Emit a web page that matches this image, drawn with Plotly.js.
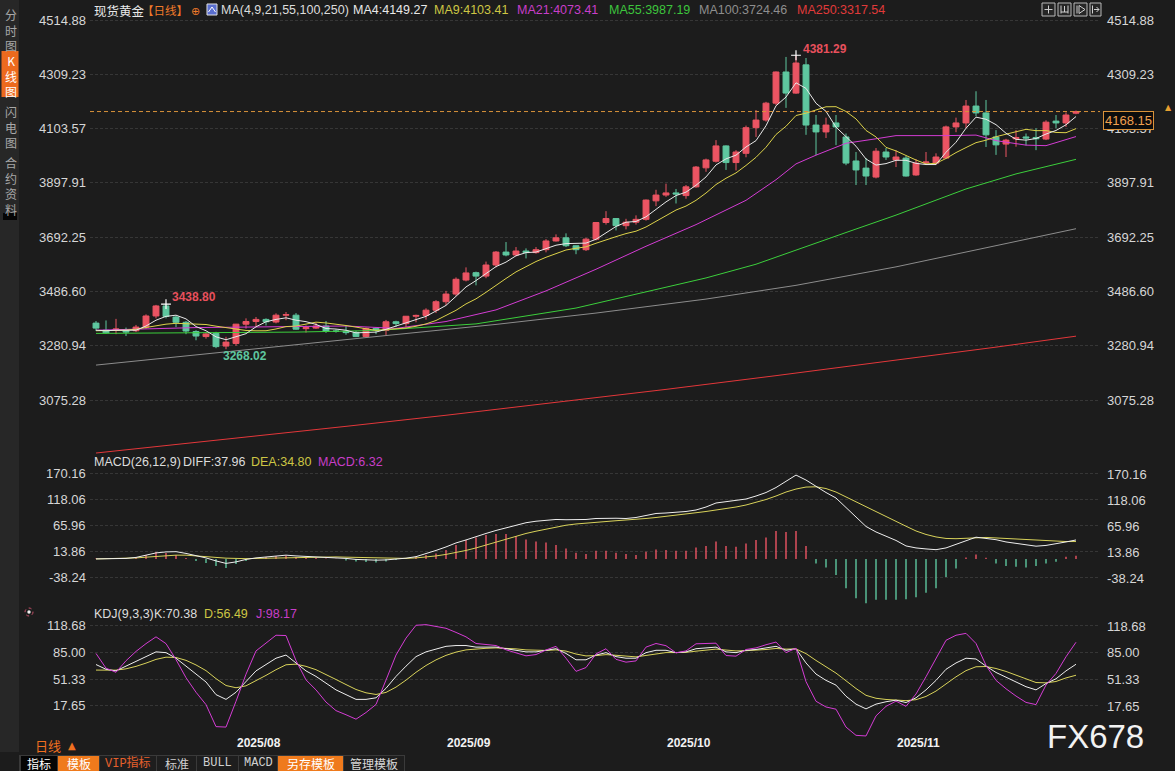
<!DOCTYPE html>
<html><head><meta charset="utf-8">
<script src="https://cdn.plot.ly/plotly-3.0.1.min.js"></script>
<style>html,body{margin:0;padding:0;background:#1c1c1c;overflow:hidden}#c{width:1175px;height:771px}</style>
</head><body><div id="c"></div>
<script>
// ---------------- DATA ----------------
const dates = [
'2025-07-14','2025-07-15','2025-07-16','2025-07-17','2025-07-18','2025-07-21','2025-07-22','2025-07-23','2025-07-24','2025-07-25','2025-07-28','2025-07-29','2025-07-30','2025-07-31',
'2025-08-01','2025-08-04','2025-08-05','2025-08-06','2025-08-07','2025-08-08','2025-08-11','2025-08-12','2025-08-13','2025-08-14','2025-08-15','2025-08-18','2025-08-19','2025-08-20','2025-08-21','2025-08-22','2025-08-25','2025-08-26','2025-08-27','2025-08-28','2025-08-29',
'2025-09-01','2025-09-02','2025-09-03','2025-09-04','2025-09-05','2025-09-08','2025-09-09','2025-09-10','2025-09-11','2025-09-12','2025-09-15','2025-09-16','2025-09-17','2025-09-18','2025-09-19','2025-09-22','2025-09-23','2025-09-24','2025-09-25','2025-09-26','2025-09-29','2025-09-30',
'2025-10-01','2025-10-02','2025-10-03','2025-10-06','2025-10-07','2025-10-08','2025-10-09','2025-10-10','2025-10-13','2025-10-14','2025-10-15','2025-10-16','2025-10-17','2025-10-20','2025-10-21','2025-10-22','2025-10-23','2025-10-24','2025-10-27','2025-10-28','2025-10-29','2025-10-30','2025-10-31',
'2025-11-03','2025-11-04','2025-11-05','2025-11-06','2025-11-07','2025-11-10','2025-11-11','2025-11-12','2025-11-13','2025-11-14','2025-11-17','2025-11-18','2025-11-19','2025-11-20','2025-11-21','2025-11-24','2025-11-25','2025-11-26','2025-11-27'];

const openP = [3367,3340,3340,3338,3338,3352,3394,3432,3390,3370,
 3335,3316,3328,3280,3290,3363,3373,3381,3371,3397,
 3397,3346,3348,3356,3337,3336,3332,3316,3347,3339,
 3372,3365,3393,3396,3416,3448,3477,3530,3558,3545,
 3587,3636,3625,3640,3634,3645,3678,3690,3660,3645,
 3685,3748,3763,3736,3749,3760,3830,3852,3860,3850,
 3883,3955,3980,4038,3975,4010,4107,4136,4200,4318,
 4238,4345,4117,4091,4125,4072,3981,3954,3920,4015,
 3985,3992,3928,3974,3973,3992,4110,4125,4189,4163,
 4072,4045,4065,4072,4070,4064,4132,4125,4162];
const highP = [3375,3377,3383,3350,3360,3400,3436,3438.8,3395,3375,
 3340,3333,3334,3315,3364,3385,3390,3385,3404,3409,
 3405,3358,3368,3375,3343,3358,3338,3350,3351,3379,
 3376,3394,3399,3423,3454,3489,3540,3578,3562,3600,
 3640,3674,3655,3650,3655,3685,3703,3707,3660,3690,
 3750,3791,3765,3762,3775,3835,3872,3895,3875,3890,
 3962,3990,4060,4040,4022,4115,4174,4205,4320,4375,
 4381.29,4371,4155,4145,4155,4085,4015,3992,4030,4030,
 4022,4000,3988,4015,4010,4115,4145,4212,4245,4212,
 4098,4065,4098,4085,4105,4135,4155,4165,4172];
const lowP = [3337,3326,3325,3318,3333,3345,3385,3385,3352,3325,
 3302,3308,3272,3268.02,3281,3346,3355,3358,3366,3378,
 3342,3331,3345,3330,3331,3323,3314,3312,3325,3321,
 3352,3351,3370,3380,3405,3435,3470,3525,3510,3537,
 3578,3620,3620,3612,3630,3635,3676,3655,3628,3640,
 3680,3740,3718,3722,3740,3755,3810,3845,3820,3838,
 3880,3940,3975,3947,3945,3995,4072,4130,4192,4182,
 4235,4080,4003,4068,4041,3965,3890,3890,3915,3985,
 3958,3922,3925,3966,3966,3990,4090,4105,4150,4034,
 4004,3996,4035,4040,4022,4060,4105,4110,4158];
const closeP = [3348,3330,3345,3333,3352,3394,3432,3392,3370,3337,
 3318,3326,3278,3295,3363,3373,3381,3372,3397,3399,
 3344,3350,3356,3336,3336,3331,3316,3347,3339,3372,
 3365,3393,3396,3416,3448,3477,3533,3557,3545,3587,
 3636,3625,3640,3634,3645,3678,3690,3660,3645,3685,
 3748,3763,3736,3749,3760,3833,3852,3860,3856,3883,
 3958,3985,4038,3975,4015,4107,4136,4200,4318,4238,
 4352,4117,4091,4117,4110,3973,3947,3924,4018,3996,
 3996,3924,3973,3977,3996,4110,4125,4189,4163,4080,
 4042,4060,4070,4068,4065,4128,4125,4155,4168.15];

const ma4 = [3340,3338,3340,3339,3340,3356,3378,3392.5,3397,3383,
 3354,3338,3315,3304,3315.5,3327,3353,3372,3381,3387,
 3378,3372.5,3362,3346.5,3344.5,3340,3330,3332.5,3333,3343.5,
 3356,3367,3381.5,3392.5,3413,3434,3468.5,3504,3528,3555.5,
 3581,3598,3622,3634,3636,3649,3662,3668,3668,3670,
 3684.5,3710,3733,3749,3752,3769.5,3798.5,3826,3850,3863,
 3889,3920.5,3966,3989,4003,4034,4058,4114.5,4190,4223,
 4277,4256,4199.5,4169,4109,4073,4037,3988.5,3965.5,3971,
 3983.5,3983.5,3972,3967.5,3967.5,4014,4052,4105,4147,4139,
 4118.5,4086,4063,4060,4066,4083,4096.5,4118,4149.27];
const ma9 = [3338,3338,3339,3340,3344,3350,3357,3363,3366.2,3365,
 3363.7,3361.6,3355.4,3349.1,3345.7,3339.1,3337.9,3338.1,3344.8,3353.8,
 3355.8,3363.8,3370.6,3367.6,3363.4,3357.9,3351.7,3346.1,3339.4,3342.6,
 3344.2,3348.3,3355,3363.9,3376.9,3394.8,3415.4,3439.7,3458.9,3483.6,
 3510.6,3536,3560.9,3581.6,3600.2,3616.3,3631.1,3643.9,3650.3,3655.8,
 3669.4,3683.1,3694.4,3706,3715.1,3731,3752.3,3776.2,3795.2,3810.2,
 3831.9,3859.6,3891.7,3915.6,3935.8,3964.1,3994.8,4033,4081.3,4112.4,
 4153.2,4162,4174.9,4186.2,4186.6,4168.4,4140.3,4096.6,4072.1,4032.6,
 4019.1,4000.6,3984.6,3969.8,3972.3,3990.4,4012.8,4031.8,4050.3,4059.7,
 4072.8,4082.4,4092.8,4100.8,4095.8,4096.1,4089,4088.1,4103.41];
const ma21Idx = [0,5,10,15,20,25,30,35,40,45,50,55,60,65,68,70,72,75,78,80,85,88,90,93,95,98];
const ma21 = [3340,3345,3350,3352,3355,3356,3347,3373,3417,3489,3571,3658,3740,3832,3910,3970,4003,4048,4065,4077,4077,4079,4058,4041,4039,4073.41];
const ma55Idx = [0,10,20,28,38,48,55,61,66,70,75,80,87,92,98];
const ma55 = [3328,3330,3333,3339,3364,3424,3485,3538,3590,3644,3710,3776,3875,3932,3987.19];
const ma100Idx = [0,10,20,28,40,50,61,70,80,90,98];
const ma100 = [3208,3246,3283,3316,3362,3405,3458,3510,3580,3660,3724.46];
const ma250Idx = [0,14,25,35,46,57,68,80,90,98];
const ma250 = [2875,2930,2976,3018,3066,3116,3168,3226,3276,3317.54];

const diff = [0,0,0.5,1,3,8,12,14,14.5,11,
 7,2,-4,-9,-6,-1,2,4,6,7.5,
 6,5,4.5,4,3,1,-1,-2.5,-2.5,-2,
 -1,1.5,4.5,10,17,24,32,38,45,51,
 57,62,68,72.5,75.5,78,79,78.5,78,79,
 81,82,81.5,81,83,87,91,92,93,95,
 98,104,112,115,116.5,120,126,133,143,155,
 168,158,145,133,122,103,82,65,54,45,
 37,26,22,20,18.5,22,29,37,43.5,41,
 38.5,34,31,28,25.5,27,30,34,37.96];
const dea = [0,0.3,0.5,1,2,3.5,5,6.5,7.5,7.5,
 6.5,5,3,1.5,0.5,0.5,1,1.5,2.5,3,
 3.5,3.8,4,4,4,3.5,3,2,1,0.5,
 0.5,1,2,3.5,6,9,12.5,17,22,28,
 34,40,46,51,55.5,60,64.5,67.5,70,72,
 73.5,75,76.5,78,79,81,83,85,87,90,
 92.5,95,97.5,100,104,108,113,119,126,134,
 140,144,144.5,141,134,124,114,104.5,95,85,
 75,65.5,56,49,44,41,40.5,41.5,43,43,
 42,41,40,39,38,36.5,35,34.8,34.80];
const macdBar = [1,0.5,0,1,3,8,14,12,8,2,
 -4,-8,-14,-18,-10,-4,2,4,6,7,
 4,3,2,1,0.5,-3,-5,-6,-7,-5,
 -2,2,5,8,11,18,28,38,43,48,
 50,50,46,39,35,33,28,21,12.5,10,
 16.5,16.5,12.5,10,8,14.5,19,18,16.5,16.5,
 23,26,35,26,24.5,31,38,43,56,54,
 56,26,-9,-17,-32,-59,-79,-89,-82,-82,
 -82,-81,-77,-68,-59,-36,-19,3,9,2.5,
 -9,-14,-15.5,-17,-14,-9,-5.5,4.5,6.32];

const kLine = [70,64,62,68,74,80,86,85,78,68,
 58,48,32,26,35,48,62,70,78,82,
 72,62,55,46,38,32,26,26,28,40,
 55,68,80,86,90,93,94,94,92,92,
 92,90,88,86,86,88,90,84,76,76,
 82,85,80,78,78,85,88,88,85,86,
 90,91,92,86,85,88,89,91,93,88,
 90,72,58,50,44,30,20,14,20,23,
 25,22,28,38,50,64,72,78,77,68,
 60,54,48,42,38,46,52,62,70.38];
const dLine = [63,63.3,62.9,64.6,67.7,71.8,76.5,79.3,78.9,75.3,
 69.5,62.3,52.2,43.5,40.7,43.1,49.4,56.3,63.5,69.7,
 70.5,67.7,63.5,57.7,51.1,44.7,38.5,34.3,32.2,34.8,
 41.5,50.3,60.2,68.8,75.9,81.6,85.7,88.5,89.7,90.5,
 91,90.7,89.8,88.5,87.7,87.8,88.5,87,83.3,80.9,
 81.3,82.5,81.7,80.5,79.7,81.5,83.7,85.1,85.1,85.4,
 86.9,88.3,89.5,88.3,87.2,87.5,88,89,90.3,89.5,
 89.7,83.8,75.2,66.8,59.2,49.5,39.7,31.1,27.4,25.9,
 25.6,24.4,25.6,29.7,36.5,45.7,54.5,62.3,67.2,67.5,
 65,61.3,56.9,51.9,47.3,46.9,48.6,53.1,56.49];
const jLine = [84,65.4,60.2,74.8,86.6,96.4,105,96.4,76.2,53.4,
 35,19.4,-8.4,-9,23.6,57.8,87.2,97.4,107,106.6,
 75,50.6,38,22.6,11.8,6.6,1,9.4,19.6,50.4,
 82,103.4,119.6,120.4,118.2,115.8,110.6,105,96.6,95,
 94,88.6,84.4,81,82.6,88.4,93,78,61.4,66.2,
 83.4,90,76.6,73,74.6,92,96.6,93.8,84.8,87.2,
 96.2,96.4,97,81.4,80.6,89,91,95,98.4,85,
 90.6,48.4,23.6,16.4,13.6,-9,-19.4,-20.2,5.2,17.2,
 23.8,17.2,32.8,54.6,77,100.6,107,109.4,96.6,69,
 50,39.4,30.2,22.2,19.4,44.2,58.8,79.8,98.17];

const priceTicks = [4514.88,4309.23,4103.57,3897.91,3692.25,3486.60,3280.94,3075.28];
const macdTicks = [170.16,118.06,65.96,13.86,-38.24];
const kdjTicks = [118.68,85.00,51.33,17.65];

// ---------------- STYLE ----------------
const BG = '#1c1c1c';
const UP = '#eb5463', DN = '#5ec79f';
const C_MA4 = '#e8e8e8', C_MA9 = '#dcd24a', C_MA21 = '#d43cd4', C_MA55 = '#3ccf3c', C_MA100 = '#8c8c8c', C_MA250 = '#e3373a';
const F = 'Liberation Sans, Arial, Noto Sans CJK SC, sans-serif';
const CJK = 'Noto Sans CJK SC, Liberation Sans, sans-serif';
const AX = x => (x - 90) / 1010;
const AY = y => 1 - y / 737;
const last = a => a[a.length - 1];
const pick = (idx) => idx.map(i => dates[i]);

const anns = [], shapes = [];
function T(text, x, y, color, size, xa, fam, extra) {
  anns.push(Object.assign({text: text, x: AX(x), y: AY(y), xref: 'paper', yref: 'paper',
    xanchor: xa || 'left', yanchor: 'middle', showarrow: false,
    font: {family: fam || F, size: size || 12.5, color: color}}, extra || {}));
}
function R(x0, y0, x1, y1, fill, line) {
  shapes.push({type: 'rect', xref: 'paper', yref: 'paper', x0: AX(x0), x1: AX(x1), y0: AY(y1), y1: AY(y0),
    fillcolor: fill, line: line || {width: 0}, layer: 'above'});
}
function Ln(x0, y0, x1, y1, color, w) {
  shapes.push({type: 'line', xref: 'paper', yref: 'paper', x0: AX(x0), x1: AX(x1), y0: AY(y0), y1: AY(y1),
    line: {color: color, width: w || 1}, layer: 'above'});
}

// ---------------- TRACES ----------------
const traces = [];
traces.push({type: 'candlestick', x: dates, open: openP, high: highP, low: lowP, close: closeP,
  xaxis: 'x', yaxis: 'y', whiskerwidth: 0, hoverinfo: 'skip',
  increasing: {line: {color: UP, width: 1}, fillcolor: UP},
  decreasing: {line: {color: DN, width: 1}, fillcolor: DN}});
function line(x, y, color, ax) {
  traces.push({type: 'scatter', mode: 'lines', x: x, y: y, xaxis: 'x', yaxis: ax || 'y',
    line: {color: color, width: 1}, hoverinfo: 'skip'});
}
line(pick(ma250Idx), ma250, C_MA250);
line(pick(ma100Idx), ma100, C_MA100);
line(pick(ma55Idx), ma55, C_MA55);
line(pick(ma21Idx), ma21, C_MA21);
line(dates, ma9, C_MA9);
line(dates, ma4, C_MA4);

// extreme markers
let hiAll = 0; highP.forEach((v, i) => { if (v > highP[hiAll]) hiAll = i; });
let hiEarly = 0; for (let i = 0; i < 30; i++) if (highP[i] > highP[hiEarly]) hiEarly = i;
let loAll = 0; lowP.forEach((v, i) => { if (v < lowP[loAll]) loAll = i; });
traces.push({type: 'scatter', mode: 'markers', x: [dates[hiAll], dates[hiEarly]], y: [highP[hiAll], highP[hiEarly]],
  xaxis: 'x', yaxis: 'y', marker: {symbol: 'cross-thin', size: 7, line: {color: '#ffffff', width: 1.2}}, hoverinfo: 'skip'});

// MACD
traces.push({type: 'bar', x: dates, y: macdBar, xaxis: 'x', yaxis: 'y2', width: 0.14,
  marker: {color: macdBar.map(v => v >= 0 ? UP : DN), line: {width: 0}}, hoverinfo: 'skip'});
line(dates, dea, '#d8d25a', 'y2');
line(dates, diff, '#eeeeee', 'y2');
// KDJ
line(dates, dLine, '#d8d25a', 'y3');
line(dates, kLine, '#eeeeee', 'y3');
line(dates, jLine, '#d43cd4', 'y3');

// ---------------- AXES ----------------
function yax(domain, range, ticks) {
  return {domain: domain, range: range, anchor: 'x', side: 'right', tickvals: ticks,
    ticktext: ticks.map(v => v.toFixed(2)), showgrid: true, gridcolor: '#363636', griddash: '3px,2px',
    gridwidth: 1, zeroline: false, showline: false, ticks: '', ticklabelstandoff: 6,
    tickfont: {family: F, size: 13, color: '#d6d6d6'}, fixedrange: true};
}
const yPrice = yax([0.382632, 1], [2867.5, 4590.62], priceTicks);
const yMacd = yax([0.177748, 0.378562], [-94.36, 202.2], macdTicks);
const yKdj = yax([0, 0.175034], [-21.51, 141.41], kdjTicks);

// left side duplicate tick labels
[['y', priceTicks], ['y2', macdTicks], ['y3', kdjTicks]].forEach(([ax, tk]) => {
  tk.forEach(v => anns.push({text: v.toFixed(2), xref: 'paper', x: 0, xanchor: 'right', xshift: -2,
    yref: ax, y: v, yanchor: 'middle', showarrow: false, font: {family: F, size: 13, color: '#d6d6d6'}}));
});

// month labels
for (let i = 1; i < dates.length; i++) {
  if (dates[i].slice(5, 7) !== dates[i - 1].slice(5, 7)) {
    anns.push({text: '<b>' + dates[i].slice(0, 7).replace('-', '/') + '</b>', xref: 'x', x: dates[i], xanchor: 'left', xshift: -1,
      yref: 'paper', y: AY(743), yanchor: 'middle', showarrow: false,
      font: {family: F, size: 12, color: '#f2f2f2'}});
  }
}

// extreme labels
anns.push({text: '<b>' + highP[hiAll].toFixed(2) + '</b>', xref: 'x', x: dates[hiAll], xanchor: 'left', xshift: 5, yref: 'y', y: highP[hiAll],
  yshift: 6, yanchor: 'middle', showarrow: false, font: {family: F, size: 12, color: '#e8505c'}});
anns.push({text: '<b>' + highP[hiEarly].toFixed(2) + '</b>', xref: 'x', x: dates[hiEarly], xanchor: 'left', xshift: 4, yref: 'y', y: highP[hiEarly],
  yshift: 7, yanchor: 'middle', showarrow: false, font: {family: F, size: 12, color: '#e8505c'}});
anns.push({text: '<b>' + lowP[loAll].toFixed(2) + '</b>', xref: 'x', x: dates[loAll], xanchor: 'left', xshift: -5, yref: 'y', y: lowP[loAll],
  yshift: -7, yanchor: 'middle', showarrow: false, font: {family: F, size: 12, color: DN}});

// current price line + label
const cp = last(closeP);
shapes.push({type: 'line', xref: 'paper', x0: 0, x1: 1, yref: 'y', y0: cp, y1: cp,
  line: {color: '#d9923a', width: 1, dash: '4px,3px'}, layer: 'above'});
anns.push({text: cp.toFixed(2), xref: 'paper', x: AX(1103), xanchor: 'left', yref: 'y', y: cp, yshift: -8.5,
  yanchor: 'middle', showarrow: false, bgcolor: '#0c0c0c', bordercolor: '#d9923a', borderwidth: 1, borderpad: 1,
  font: {family: F, size: 13, color: '#f0a050'}});
T('▲', 1168, 107, '#e8a030', 8, 'center', 'DejaVu Sans');

// ---------------- HEADER ----------------
T('现货黄金', 92, 10, '#e8e8e8', 12.5, 'left', CJK);
T('【日线】', 140, 10, '#f07a2a', 11.5, 'left', CJK);
T('⊕', 189, 11, '#f07a2a', 11, 'left', 'DejaVu Sans');
R(207, 4, 217, 15, '#5a6fd0', {color: '#e0e0e0', width: 1});
Ln(208.5, 12, 212, 7, '#ffffff', 1); Ln(212, 7, 215.5, 12, '#ffffff', 1);
T('MA(4,9,21,55,100,250)', 219, 10, '#dcdcdc');
T('MA4:' + last(ma4).toFixed(2), 351, 10, '#e8e8e8');
T('MA9:' + last(ma9).toFixed(2), 432, 10, '#cdc644');
T('MA21:' + last(ma21).toFixed(2), 515, 10, '#c83ec8');
T('MA55:' + last(ma55).toFixed(2), 607, 10, '#3cc43c');
T('MA100:' + last(ma100).toFixed(2), 697, 10, '#8e8e8e');
T('MA250:' + last(ma250).toFixed(2), 795, 10, '#e03a3a');

// top right icons
[[1042, 1055], [1058, 1071], [1074, 1087], [1090, 1101]].forEach(b => R(b[0], 3, b[1], 16, '#262626', {color: '#b8b8b8', width: 1}));
Ln(1044.5, 9.5, 1052.5, 9.5, '#cfcfcf'); Ln(1048.5, 5.5, 1048.5, 13.5, '#cfcfcf');
Ln(1061, 5.5, 1061, 13.5, '#cfcfcf'); Ln(1068, 5.5, 1068, 13.5, '#cfcfcf'); Ln(1061, 12, 1068, 12, '#cfcfcf'); Ln(1064.5, 6, 1064.5, 12, '#cfcfcf');
Ln(1077, 5.5, 1077, 13.5, '#cfcfcf'); Ln(1079, 5.5, 1085, 9.5, '#cfcfcf'); Ln(1085, 9.5, 1079, 13.5, '#cfcfcf'); Ln(1079, 5.5, 1079, 13.5, '#cfcfcf');
Ln(1092.5, 5.5, 1092.5, 13.5, '#cfcfcf'); Ln(1094, 9.5, 1099, 9.5, '#cfcfcf'); Ln(1096.5, 7, 1099, 9.5, '#cfcfcf'); Ln(1096.5, 12, 1099, 9.5, '#cfcfcf');

// MACD / KDJ headers
T('MACD(26,12,9)', 92, 462, '#dcdcdc');
T('DIFF:' + last(diff).toFixed(2), 181, 462, '#dcdcdc');
T('DEA:' + last(dea).toFixed(2), 249, 462, '#cdc644');
T('MACD:' + last(macdBar).toFixed(2), 316, 462, '#c83ec8');
T('KDJ(9,3,3)', 92, 614, '#dcdcdc');
T('K:' + last(kLine).toFixed(2), 152, 614, '#dcdcdc');
T('D:' + last(dLine).toFixed(2), 202, 614, '#cdc644');
T('J:' + last(jLine).toFixed(2), 254, 614, '#c83ec8');
shapes.push({type: 'circle', xref: 'paper', yref: 'paper', x0: AX(25), x1: AX(33), y0: AY(616), y1: AY(608),
  line: {color: '#c8506a', width: 1, dash: 'dot'}, layer: 'above'});
shapes.push({type: 'circle', xref: 'paper', yref: 'paper', x0: AX(27.3), x1: AX(30.7), y0: AY(613.7), y1: AY(610.3),
  fillcolor: '#f0f0f0', line: {width: 0}, layer: 'above'});

// ---------------- SIDEBAR ----------------
R(0, 0, 19, 752, '#272727');
R(1.5, 51, 18.5, 97, '#ec6a1e');
R(3, 213, 17, 220, '#050505');
const sideOpts = {borderpad: 0};
T('分<br>时<br>图', 10.5, 30.5, '#a8a8a8', 12, 'center', CJK, sideOpts);
T('K<br>线<br>图', 10.5, 76, '#ffffff', 12, 'center', CJK, sideOpts);
T('闪<br>电<br>图', 10.5, 127, '#a8a8a8', 12, 'center', CJK, sideOpts);
T('合<br>约<br>资<br>料', 10.5, 186, '#a8a8a8', 12, 'center', CJK, sideOpts);

// ---------------- BOTTOM ----------------
T('日线', 33, 745, '#f07020', 13, 'left', CJK);
T('▲', 66, 745, '#f07020', 10, 'left', 'DejaVu Sans');
R(19, 755, 405, 771, '#3a3a3a');
const tabs = [
  [21, 57, '#050505', '指标', '#ffffff', CJK],
  [58, 99, '#ef7a1c', '模板', '#ffffff', CJK],
  [100, 156, '#1e1e1e', 'VIP指标', '#e6602c', 'Liberation Mono, Noto Sans CJK SC'],
  [157, 196, '#1e1e1e', '标准', '#d0d0d0', CJK],
  [197, 238, '#1e1e1e', 'BULL', '#d0d0d0', 'Liberation Mono'],
  [239, 277, '#1e1e1e', 'MACD', '#d0d0d0', 'Liberation Mono'],
  [278, 343, '#ef7a1c', '另存模板', '#ffffff', CJK],
  [344, 404, '#1e1e1e', '管理模板', '#d8d8d8', CJK]];
tabs.forEach(t => { R(t[0], 756, t[1], 771, t[2]); T(t[3], (t[0] + t[1]) / 2, 763, t[4], 12, 'center', t[5], {borderpad: 0}); });

// watermark
T('FX678', 1095, 736, '#f2f2f2', 33, 'center', 'Liberation Sans');

const layout = {
  width: 1175, height: 771,
  margin: {l: 90, r: 75, t: 0, b: 34},
  paper_bgcolor: BG, plot_bgcolor: BG,
  showlegend: false, hovermode: false, dragmode: false,
  boxgap: 0.16,
  font: {family: F, color: '#d6d6d6'},
  xaxis: {type: 'category', categoryorder: 'array', categoryarray: dates, range: [-0.6, 100.4],
    showgrid: false, showticklabels: false, zeroline: false, showline: false, ticks: '',
    rangeslider: {visible: false}, fixedrange: true},
  yaxis: yPrice, yaxis2: yMacd, yaxis3: yKdj,
  shapes: shapes, annotations: anns
};
Plotly.newPlot('c', traces, layout, {staticPlot: true, displayModeBar: false});
</script></body></html>
